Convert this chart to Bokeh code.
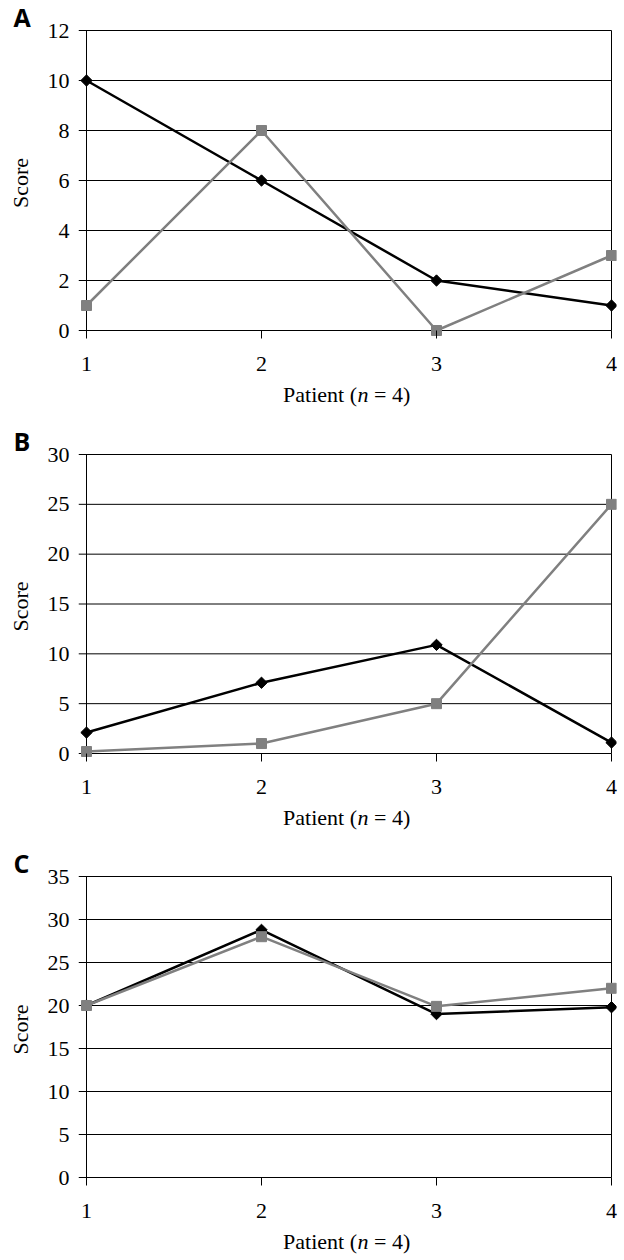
from bokeh.plotting import figure
from bokeh.layouts import column
from bokeh.models import Range1d, FixedTicker, Label
from bokeh.embed import file_html
from bokeh.resources import INLINE

# ---------------- data ----------------
patients = [1, 2, 3, 4]
x_ticks = [1, 2, 3, 4]

a_black = [10, 6, 2, 1]
a_gray = [1, 8, 0, 3]
a_yticks = [0, 2, 4, 6, 8, 10, 12]

b_black = [2.1, 7.1, 10.9, 1.1]
b_gray = [0.2, 1, 5, 25]
b_yticks = [0, 5, 10, 15, 20, 25, 30]

c_black = [20, 28.8, 19, 19.8]
c_gray = [20, 28, 19.9, 22]
c_yticks = [0, 5, 10, 15, 20, 25, 30, 35]

panel_letters = ["A", "B", "C"]
x_title_parts = ["Patient (", "n", "= 4)"]
y_title = "Score"

# ---------------- style / layout ----------------
SERIF = "Liberation Serif"
FS = "22px"
BLACK = "#000000"
GRAY = "#808080"

W = 624
LEFT = 78
RIGHT = 8
PAD_L, PAD_R, PAD_T, PAD_B = 8, 5, 1, 6
AXIS_BAND = 42        # space below the frame for ticks and tick labels
TITLE_DY = 64         # x-title centre below the zero line


def make_panel(letter, black, gray, yticks, fig_y, gy_top, gy0, next_y):
    frame_top = gy_top - PAD_T
    frame_bot = gy0 + PAD_B
    top = frame_top - fig_y
    frame_h = frame_bot - frame_top
    height = top + frame_h + AXIS_BAND
    frame_w = W - LEFT - RIGHT
    ppu_x = (frame_w - PAD_L - PAD_R) / (x_ticks[-1] - x_ticks[0])
    x_rng = Range1d(x_ticks[0] - PAD_L / ppu_x, x_ticks[-1] + PAD_R / ppu_x)
    ymax = yticks[-1]
    ppu_y = (gy0 - gy_top) / ymax
    y_rng = Range1d(-PAD_B / ppu_y, ymax + PAD_T / ppu_y)

    p = figure(width=W, height=height, x_range=x_rng, y_range=y_rng,
               output_backend="svg", toolbar_location=None,
               min_border_left=LEFT, min_border_right=RIGHT,
               min_border_top=top, min_border_bottom=AXIS_BAND)
    p.outline_line_color = None
    p.grid.visible = False
    p.background_fill_color = "white"
    p.border_fill_color = "white"

    # panel letter as title
    p.title.text = letter
    p.title.align = "left"
    p.title.offset = 13 - LEFT
    p.title.text_font = "Open Sans"
    p.title.text_font_style = "bold"
    p.title.text_font_size = "25px"
    p.title.text_color = BLACK
    p.title.standoff = -8

    xa = p.xaxis[0]
    xa.ticker = FixedTicker(ticks=x_ticks)
    xa.axis_line_color = None
    xa.major_tick_in = PAD_B
    xa.major_tick_out = 2
    xa.major_tick_line_color = BLACK
    xa.major_tick_line_width = 1
    xa.minor_tick_line_color = None
    xa.major_label_text_font = SERIF
    xa.major_label_text_font_size = FS
    xa.major_label_text_color = BLACK
    xa.major_label_standoff = 18

    ya = p.yaxis[0]
    ya.ticker = FixedTicker(ticks=yticks)
    ya.axis_line_color = None
    ya.major_tick_line_color = None
    ya.major_tick_in = 0
    ya.major_tick_out = 0
    ya.minor_tick_line_color = None
    ya.major_label_text_font = SERIF
    ya.major_label_text_font_size = FS
    ya.major_label_text_color = BLACK
    ya.major_label_standoff = 9
    ya.axis_label = y_title
    ya.axis_label_text_font = SERIF
    ya.axis_label_text_font_size = FS
    ya.axis_label_text_font_style = "normal"
    ya.axis_label_text_color = BLACK
    ya.axis_label_standoff = 12

    # horizontal gridlines (incl. 0 and top), from frame left to x=4
    n = len(yticks)
    p.segment(x0=[x_rng.start] * n, x1=[x_ticks[-1]] * n, y0=yticks, y1=yticks,
              line_color=BLACK, line_width=1)
    # left axis line and right border
    p.segment(x0=[x_ticks[0], x_ticks[-1]], x1=[x_ticks[0], x_ticks[-1]],
              y0=[yticks[0], yticks[0]], y1=[ymax, ymax],
              line_color=BLACK, line_width=1)

    # series
    p.line(patients, black, line_color=BLACK, line_width=2.5)
    p.scatter(patients, black, marker="square", angle=0.785398, size=8,
              fill_color=BLACK, line_color=BLACK)
    p.line(patients, gray, line_color=GRAY, line_width=2.5)
    p.scatter(patients, gray, marker="square", size=10,
              fill_color=GRAY, line_color=GRAY)

    # caption strip below, sharing the x scale, holding the x-axis title
    cap_top = fig_y + height
    cap_h = next_y - cap_top
    q = figure(width=W, height=cap_h, x_range=x_rng, y_range=Range1d(0, cap_h),
               output_backend="svg", toolbar_location=None,
               min_border_left=LEFT, min_border_right=RIGHT,
               min_border_top=0, min_border_bottom=0)
    q.axis.visible = False
    q.grid.visible = False
    q.outline_line_color = None
    q.background_fill_color = "white"
    q.border_fill_color = "white"
    xc = (x_ticks[0] + x_ticks[-1]) / 2
    ty = cap_h - (gy0 + TITLE_DY - cap_top)
    q.add_layout(Label(x=xc, y=ty, x_offset=8,
                       text=x_title_parts[0], text_font=SERIF, text_font_size=FS,
                       text_color=BLACK, text_align="right", text_baseline="middle"))
    q.add_layout(Label(x=xc, y=ty, x_offset=8.5,
                       text=x_title_parts[1], text_font=SERIF, text_font_size=FS,
                       text_font_style="italic",
                       text_color=BLACK, text_align="left", text_baseline="middle"))
    q.add_layout(Label(x=xc, y=ty, x_offset=25,
                       text=x_title_parts[2], text_font=SERIF, text_font_size=FS,
                       text_color=BLACK, text_align="left", text_baseline="middle"))
    return [p, q]


rows = []
rows += make_panel(panel_letters[0], a_black, a_gray, a_yticks, 0, 30, 330, 423)
rows += make_panel(panel_letters[1], b_black, b_gray, b_yticks, 423, 454, 753, 846)
rows += make_panel(panel_letters[2], c_black, c_gray, c_yticks, 846, 876, 1177, 1260)

layout = column(*rows, spacing=0)
open("out.html", "w").write(file_html(layout, INLINE))
